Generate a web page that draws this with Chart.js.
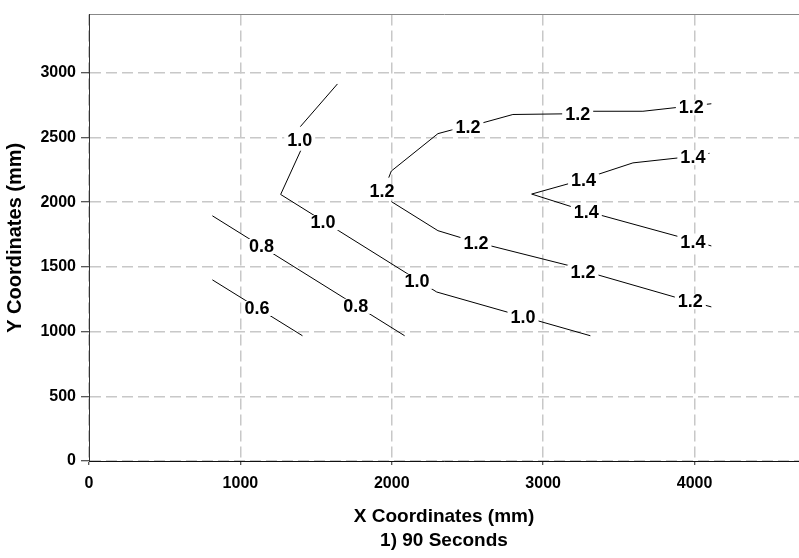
<!DOCTYPE html>
<html>
<head>
<meta charset="utf-8">
<title>Contours - 90 Seconds</title>
<script src="https://cdn.jsdelivr.net/npm/chart.js@4.4.1/dist/chart.umd.min.js"></script>
<style>
    body { margin: 0; background: #fff; overflow: hidden; }
</style>
</head>
<body>
<canvas id="contour-chart" width="799" height="558"></canvas>
<script>
// Axis ticks
const xTicks = [0, 1000, 2000, 3000, 4000];
const yTicks = [0, 500, 1000, 1500, 2000, 2500, 3000];

// Contour lines (mm), null = break in the line under a label
const c06X = [815, 1410];
const c06Y = [1400, 968];

const c08X = [815, 2085];
const c08Y = [1895, 968];

const c10X = [1641, 1396, null, 1398, 1266, 2297, 3312];
const c10Y = [2914, 2584, null, 2398, 2060, 1306, 968];

const c12X = [4111, 3890, 3659, 3318, 3142, 2800, 2602, 2394, 2305, 1997, 1980, null, 1997, 2305, 2460, 2642, 3175, 3362, 3890, 4111];
const c12Y = [2761, 2733, 2703, 2703, 2683, 2678, 2614, 2558, 2530, 2241, 2190, null, 2005, 1780, 1725, 1666, 1509, 1438, 1260, 1191];

const c14X = [4099, 3890, 3593, 3362, 3186, 2924, 3186, 3373, 3902, 4111];
const c14Y = [2378, 2342, 2304, 2215, 2149, 2063, 1966, 1902, 1732, 1662];

// Contour labels
const labelText = ['0.6', '0.8', '0.8', '1.0', '1.0', '1.0', '1.0',
    '1.2', '1.2', '1.2', '1.2', '1.2', '1.2', '1.2', '1.4', '1.4', '1.4', '1.4'];
const labelX = [1110, 1139, 1762, 1392, 1546, 2166, 2867,
    1935, 2503, 3228, 3979, 2556, 3263, 3972, 3267, 3989, 3285, 3989];
const labelY = [1183, 1662, 1199, 2479, 1845, 1392, 1115,
    2083, 2581, 2685, 2733, 1687, 1463, 1235, 2169, 2348, 1928, 1692];

const fontFamily = '"Liberation Sans", Arial, sans-serif';

// Build one line dataset from x / y arrays
function contourDataset(xs, ys) {
    return {
        data: xs.map((x, i) => ({ x: x, y: ys[i] })),
        showLine: true,
        spanGaps: false,
        borderColor: '#000',
        borderWidth: 1,
        pointRadius: 0,
        tension: 0,
        fill: false
    };
}

// Draw contour labels over the lines with a white gap
const contourLabels = {
    id: 'contourLabels',
    afterDatasetsDraw(chart) {
        const ctx = chart.ctx;
        const xScale = chart.scales.x;
        const yScale = chart.scales.y;
        ctx.save();
        ctx.font = 'bold 18px ' + fontFamily;
        ctx.textAlign = 'center';
        ctx.textBaseline = 'middle';
        labelText.forEach((txt, i) => {
            const px = xScale.getPixelForValue(labelX[i]);
            const py = yScale.getPixelForValue(labelY[i]);
            const w = ctx.measureText(txt).width;
            ctx.fillStyle = '#fff';
            ctx.fillRect(px - w / 2 - 3, py - 7, w + 6, 15);
            ctx.fillStyle = '#000';
            ctx.fillText(txt, px, py + 1);
        });
        ctx.restore();
    }
};

const tickFont = { family: fontFamily, size: 16, weight: 'bold' };
const xTitleFont = { family: fontFamily, size: 19, weight: 'bold', lineHeight: 1.26 };
const yTitleFont = { family: fontFamily, size: 20, weight: 'bold' };

const ctx = document.getElementById('contour-chart').getContext('2d');
const contourChart = new Chart(ctx, {
    type: 'scatter',
    data: {
        datasets: [
            contourDataset(c06X, c06Y),
            contourDataset(c08X, c08Y),
            contourDataset(c10X, c10Y),
            contourDataset(c12X, c12Y),
            contourDataset(c14X, c14Y)
        ]
    },
    options: {
        responsive: false,
        animation: false,
        layout: { padding: { top: 8, right: 0, bottom: 0, left: 0 } },
        plugins: {
            legend: { display: false },
            tooltip: { enabled: false }
        },
        scales: {
            x: {
                type: 'linear',
                position: 'bottom',
                min: 0,
                max: 4690,
                afterBuildTicks: scale => { scale.ticks = xTicks.map(v => ({ value: v })); },
                afterFit: scale => { scale.height = 97; },
                ticks: { font: tickFont, color: '#000', padding: 9, callback: v => String(v) },
                grid: { color: '#c8c8c8', lineWidth: 1.5, tickColor: '#222', tickLength: 4, tickWidth: 1 },
                border: { color: '#111', width: 1, dash: [11, 5] },
                title: {
                    display: true,
                    text: ['X Coordinates (mm)', '1) 90 Seconds'],
                    font: xTitleFont,
                    color: '#000',
                    padding: { top: 0, bottom: 5 }
                }
            },
            xTop: {
                type: 'linear',
                position: 'top',
                min: 0,
                max: 4690,
                ticks: { display: false },
                grid: { display: false },
                border: { color: '#888', width: 1 },
                afterFit: scale => { scale.height = 0; }
            },
            y: {
                type: 'linear',
                position: 'left',
                min: 0,
                max: 3450,
                afterBuildTicks: scale => { scale.ticks = yTicks.map(v => ({ value: v })); },
                afterFit: scale => { scale.width = 89; },
                ticks: { font: tickFont, color: '#000', padding: 5, callback: v => String(v) },
                grid: { color: '#c8c8c8', lineWidth: 1.5, tickColor: '#222', tickLength: 8, tickWidth: 1 },
                border: { color: '#333', width: 1, dash: [11, 5] },
                title: {
                    display: true,
                    text: 'Y Coordinates (mm)',
                    font: yTitleFont,
                    color: '#000',
                    padding: { top: 3, bottom: 0 }
                }
            }
        }
    },
    plugins: [contourLabels]
});
</script>
</body>
</html>
